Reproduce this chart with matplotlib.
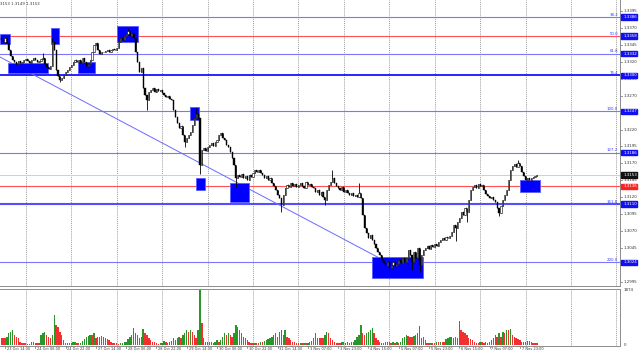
import numpy as np
import matplotlib
matplotlib.use("Agg")
import matplotlib.pyplot as plt
from matplotlib.patches import Rectangle

# ---------------- data (prices in points, 1 point = 0.0001) ----------------
closes_pts = [
    13352, 13349, 13355, 13348, 13337, 13329, 13323, 13320, 13317, 13321,
    13318, 13320, 13323, 13324, 13321, 13318, 13323, 13326, 13323, 13320,
    13321, 13324, 13326, 13317, 13312, 13309, 13314, 13349, 13337, 13308,
    13299, 13293, 13296, 13301, 13305, 13308, 13312, 13315, 13320, 13323,
    13320, 13323, 13318, 13326, 13320, 13314, 13317, 13323, 13334, 13345,
    13348, 13337, 13332, 13334, 13334, 13336, 13337, 13334, 13337, 13339,
    13337, 13340, 13349, 13355, 13352, 13358, 13361, 13365, 13358, 13363,
    13355, 13334, 13320, 13305, 13311, 13281, 13271, 13264, 13275, 13278,
    13281, 13275, 13280, 13277, 13278, 13274, 13271, 13268, 13270, 13265,
    13264, 13249, 13239, 13230, 13222, 13225, 13212, 13202, 13208, 13212,
    13216, 13227, 13237, 13243, 13237, 13168, 13190, 13193, 13188, 13194,
    13197, 13200, 13196, 13202, 13205, 13212, 13215, 13208, 13205, 13197,
    13194, 13187, 13178, 13168, 13149, 13153, 13150, 13154, 13149, 13151,
    13146, 13153, 13150, 13156, 13160, 13157, 13160, 13156, 13153, 13149,
    13151, 13146, 13149, 13141, 13137, 13131, 13123, 13119, 13109, 13123,
    13134, 13138, 13135, 13141, 13137, 13140, 13135, 13138, 13141, 13137,
    13134, 13143, 13138, 13140, 13135, 13134, 13128, 13131, 13123, 13128,
    13120, 13116, 13131, 13138, 13143, 13149, 13141, 13137, 13134, 13131,
    13135, 13128, 13131, 13126, 13123, 13126, 13122, 13123, 13120, 13126,
    13119, 13094, 13075, 13067, 13060, 13064, 13057, 13051, 13045, 13039,
    13035, 13027, 13023, 13019, 13024, 13016, 13020, 13024, 13019, 13021,
    13027, 13023, 13030, 13024, 13030, 13042, 13035, 13024, 13039, 13030,
    13045, 13020, 13035, 13042, 13045, 13048, 13044, 13050, 13047, 13051,
    13048, 13054, 13057, 13060, 13057, 13061, 13060, 13063, 13069, 13079,
    13075, 13083, 13089, 13098, 13094, 13104, 13098, 13116, 13131, 13135,
    13138, 13134, 13140, 13137, 13138, 13131, 13125, 13122, 13119, 13120,
    13116, 13113, 13104, 13097, 13107, 13116, 13123, 13131, 13146, 13160,
    13166, 13169, 13165, 13171, 13166, 13157, 13151, 13146, 13149, 13146,
    13149, 13150, 13151, 13153,
]
first_open_pts = 13355
high_spikes = {22: 13333, 27: 13355, 67: 13370, 103: 13252, 175: 13160,
               189: 13141, 273: 13175}
low_spikes = {31: 13290, 77: 13249, 97: 13194, 105: 13154, 124: 13135,
              148: 13098, 171: 13109, 217: 13013, 221: 13010, 240: 13056,
              246: 13083, 263: 13092, 205: 13008}

volumes = [
    230, 230, 230, 280, 400, 450, 510, 340, 280, 230,
    110, 80, 60, 60, 40, 40, 90, 90, 80, 80,
    60, 340, 400, 450, 340, 280, 230, 340, 1020, 680,
    610, 450, 340, 170, 80, 80, 60, 60, 90, 110,
    80, 60, 80, 130, 190, 260, 300, 340, 340, 400,
    230, 260, 280, 300, 280, 230, 190, 170, 110, 80,
    60, 60, 40, 60, 80, 90, 110, 190, 270, 340,
    580, 410, 340, 240, 270, 540, 400, 340, 240, 170,
    100, 100, 60, 50, 60, 70, 130, 100, 80, 100,
    130, 240, 170, 240, 270, 230, 340, 400, 510, 450,
    510, 460, 340, 240, 510, 1874, 760, 230, 110, 100,
    110, 100, 60, 100, 170, 110, 170, 270, 400, 340,
    400, 340, 280, 400, 680, 610, 510, 400, 280, 230,
    170, 110, 60, 60, 80, 80, 60, 110, 110, 130,
    170, 190, 230, 280, 340, 400, 280, 450, 510, 340,
    510, 280, 230, 170, 110, 110, 80, 60, 80, 60,
    80, 60, 80, 100, 130, 230, 400, 230, 230, 230,
    230, 340, 450, 400, 230, 170, 110, 60, 60, 60,
    90, 90, 80, 90, 80, 110, 110, 170, 280, 340,
    680, 400, 340, 400, 450, 510, 570, 400, 230, 170,
    110, 80, 60, 90, 90, 110, 80, 110, 80, 110,
    60, 110, 230, 280, 340, 300, 280, 260, 300, 340,
    400, 650, 230, 280, 170, 80, 60, 80, 80, 60,
    90, 90, 110, 110, 90, 190, 230, 280, 280, 230,
    280, 230, 830, 510, 450, 400, 340, 230, 190, 170,
    110, 80, 60, 110, 110, 80, 110, 80, 90, 170,
    230, 340, 280, 400, 280, 450, 400, 510, 510, 540,
    340, 280, 230, 190, 170, 110, 90, 110, 150, 130,
    100, 80, 80, 60,
]

fib_names = ["38.2", "50.0", "61.8", "76.4", "100.0", "127.2", "161.8", "200.0"]
fib_prices = [1.3386, 1.3358, 1.3332, 1.3300, 1.3247, 1.3186, 1.3110, 1.3024]
bid_price = 1.3153
ask_price = 1.3136
price_ticks = [1.3395, 1.3370, 1.3345, 1.3320, 1.3295, 1.3270, 1.3245, 1.3220,
               1.3195, 1.3170, 1.3145, 1.3120, 1.3095, 1.3070, 1.3045, 1.3020,
               1.2995]
volume_ticks = [1874, 0]
date_bars = [2, 18, 34, 50, 66, 82, 98, 114, 130, 146, 162, 178, 194, 210,
             226, 242, 258, 274]
date_labels = ["23 Oct 14:00", "24 Oct 06:00", "24 Oct 22:00", "27 Oct 14:00",
               "28 Oct 06:00", "28 Oct 22:00", "29 Oct 14:00", "30 Oct 06:00",
               "30 Oct 22:00", "31 Oct 14:00", "3 Nov 07:00", "3 Nov 23:00",
               "4 Nov 15:00", "5 Nov 07:00", "5 Nov 23:00", "6 Nov 15:00",
               "7 Nov 07:00", "7 Nov 23:00"]
day_separators = [13, 37, 61, 85, 109, 133, 157, 181, 205, 229, 253, 277, 301, 325]
# zones: (bar_from, bar_to, price_low, price_high)
zones = [(-0.6, 4.6, 1.3346, 1.3361), (3.6, 24.7, 1.3303, 1.3318),
         (26.3, 30.5, 1.3346, 1.3370), (40.6, 49.5, 1.3303, 1.3320),
         (61.2, 72.3, 1.3349, 1.3373), (99.7, 104.5, 1.3234, 1.3253),
         (103.0, 107.7, 1.3131, 1.3149), (120.9, 130.9, 1.3113, 1.3141),
         (195.9, 222.8, 1.3001, 1.3032), (274.0, 284.6, 1.3128, 1.3146)]
trend_bars = [-0.6, 200.0]
trend_prices = [1.3327, 1.3030]
header_text = "3153 1.3149 1.3153"

# ---------------- derived OHLC ----------------
closes = np.array(closes_pts) / 10000.0
opens = np.concatenate([[first_open_pts / 10000.0], closes[:-1]])
highs = np.maximum(opens, closes)
lows = np.minimum(opens, closes)
for k, v in high_spikes.items():
    highs[k] = max(highs[k], v / 10000.0)
for k, v in low_spikes.items():
    lows[k] = min(lows[k], v / 10000.0)
n = len(closes)
xb = np.arange(n)

W, H = 640, 356
fig = plt.figure(figsize=(W / 100, H / 100), dpi=100)
fig.patch.set_facecolor("white")

XMIN, XMAX = -0.63, 326.9
ax = fig.add_axes([0, (H - 285.5) / H, 620 / W, 285.5 / H])
ax.set_xlim(XMIN, XMAX)
ax.set_ylim(1.28898, 1.34112)
ax.set_ylim(1.29898, 1.34112)
axv = fig.add_axes([0, (H - 346) / H, 620 / W, 57.5 / H])
axv.set_xlim(XMIN, XMAX)
axv.set_ylim(-35, 1930)

for a in (ax, axv):
    a.set_xticks([])
    a.set_yticks([])
    a.set_facecolor("white")
    for s in a.spines.values():
        s.set_color("#8c8c8c")
        s.set_linewidth(0.7)
    a.spines["left"].set_visible(False)
ax.spines["top"].set_visible(False)

# day separators
for d in day_separators:
    for a in (ax, axv):
        a.axvline(d, color="#7a7a7a", lw=0.5, ls=(0, (1.5, 1.5)), zorder=1)

# horizontal levels
for name, p in zip(fib_names, fib_prices):
    if name == "50.0":
        col, lw = "#ff5050", 0.8
    elif name == "76.4":
        col, lw = "#0000ff", 1.2
    elif name == "161.8":
        col, lw = "#5050ff", 1.5
    else:
        col, lw = "#7878ff", 0.8
    ax.axhline(p, color=col, lw=lw, zorder=2)
    ax.text(618 / 620, p + 0.00004, name, transform=ax.get_yaxis_transform(),
            ha="right", va="bottom", fontsize=2.8, color="#3a3aff", zorder=6)
ax.axhline(bid_price, color="#cfcfcf", lw=0.7, zorder=2)
ax.axhline(ask_price, color="#ff5050", lw=0.8, zorder=2)

# trend line
ax.plot(trend_bars, trend_prices, color="#6a6aff", lw=0.7, zorder=3)

# zones
for b0, b1, p0, p1 in zones:
    ax.add_patch(Rectangle((b0, p0), b1 - b0, p1 - p0, facecolor="#0000ff",
                           edgecolor="#5c5cff", lw=0.6, zorder=4))

# candles
ax.vlines(xb, lows, highs, color="black", lw=0.6, zorder=5)
up = closes >= opens
bh = np.abs(closes - opens)
bh = np.where(bh < 0.00003, 0.00003, bh)
ax.bar(xb[~up], bh[~up], bottom=np.minimum(opens, closes)[~up], width=0.6,
       color="black", edgecolor="black", lw=0.3, zorder=5)
ax.bar(xb[up], bh[up], bottom=np.minimum(opens, closes)[up], width=0.6,
       color="white", edgecolor="black", lw=0.4, zorder=5)

# volumes (green when rising vs previous bar)
vol = np.array(volumes)
prev = np.concatenate([[vol[0]], vol[:-1]])
vcols = np.where(vol > prev, "#2a962a", "#f23030")
axv.bar(xb, vol, width=0.72, color=vcols, zorder=3)

# right price axis labels
ty = ax.get_yaxis_transform()
for p in price_ticks:
    ax.plot([1.0, 1.004], [p, p], transform=ty, color="#6a6a6a", lw=0.5,
            clip_on=False)
    ax.text(1.0055, p, f"{p:.4f}", transform=ty, ha="left", va="center",
            fontsize=2.9, color="#333333", clip_on=False)

def tag(p, text, fc):
    ax.add_patch(Rectangle((1.0015, p - 0.00038), 0.0265, 0.00076,
                           transform=ty, facecolor=fc, edgecolor=fc,
                           clip_on=False, zorder=8))
    ax.text(1.0055, p, text, transform=ty, ha="left", va="center",
            fontsize=2.9, color="white", clip_on=False, zorder=9)

for p in fib_prices:
    tag(p, f"{p:.4f}", "#1010f0")
tag(bid_price, f"{bid_price:.4f}", "#111111")
tag(ask_price, f"{ask_price:.4f}", "#ff2020")

tv = axv.get_yaxis_transform()
for v in volume_ticks:
    axv.text(1.0055, v, str(v), transform=tv, ha="left", va="center",
             fontsize=2.9, color="#333333", clip_on=False)

# date labels
for b, lab in zip(date_bars, date_labels):
    axv.plot([b, b], [-35, -95], color="#6a6a6a", lw=0.5, clip_on=False)
    axv.text(b + 1.0, -60, lab, ha="left", va="top", fontsize=2.5,
             color="#333333", clip_on=False)

# header
ax.text(0.0, 0.992, header_text, transform=ax.transAxes, ha="left", va="top",
        fontsize=2.8, color="#333333", zorder=10)

fig.savefig("out.png", dpi=100, facecolor="white")
